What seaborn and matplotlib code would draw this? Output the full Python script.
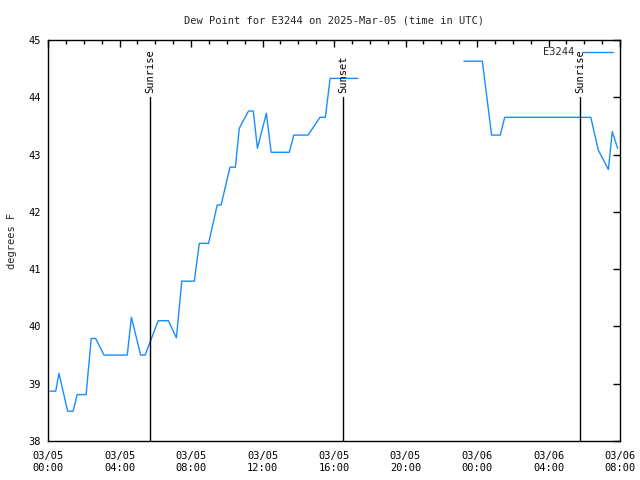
import matplotlib
matplotlib.use("Agg")
import matplotlib.pyplot as plt
import matplotlib.dates as mdates
from matplotlib.lines import Line2D
import seaborn as sns
import pandas as pd

# ---- data ----
times_day1 = ["00:07", "00:26", "00:37", "01:06", "01:24", "01:38", "02:08", "02:25",
              "02:40", "03:08", "04:26", "04:40", "05:11", "05:26", "06:10", "06:44",
              "07:11", "07:29", "08:11", "08:28", "08:59", "09:28", "09:41", "10:11",
              "10:29", "10:42", "11:13", "11:29", "11:43", "12:13", "12:29", "13:30",
              "13:45", "14:33", "15:13", "15:31", "15:47", "17:20"]
dew_day1 = [38.87, 38.87, 39.18, 38.52, 38.52, 38.81, 38.81, 39.79,
            39.79, 39.50, 39.50, 40.16, 39.50, 39.50, 40.10, 40.10,
            39.80, 40.79, 40.79, 41.45, 41.45, 42.12, 42.12, 42.78,
            42.78, 43.46, 43.76, 43.76, 43.11, 43.72, 43.04, 43.04,
            43.34, 43.34, 43.65, 43.65, 44.33, 44.33]
times_day2 = ["2025-03-05 23:16", "2025-03-06 00:18", "2025-03-06 00:49", "2025-03-06 01:18",
              "2025-03-06 01:33", "2025-03-06 06:22", "2025-03-06 06:47", "2025-03-06 07:21",
              "2025-03-06 07:34", "2025-03-06 07:52"]
dew_day2 = [44.63, 44.63, 43.34, 43.34, 43.65, 43.65, 43.08, 42.74, 43.40, 43.11]

event_times = ["2025-03-05 05:42", "2025-03-05 16:30", "2025-03-06 05:46"]
event_labels = ["Sunrise", "Sunset", "Sunrise"]

station = "E3244"
title = "Dew Point for E3244 on 2025-Mar-05 (time in UTC)"
ylabel = "degrees F"

# ---- build frame ----
t1 = pd.to_datetime(["2025-03-05 " + t for t in times_day1])
t2 = pd.to_datetime(times_day2)
df = pd.DataFrame({
    "time": list(t1) + list(t2),
    "dew": dew_day1 + dew_day2,
    "seg": [0] * len(t1) + [1] * len(t2),
    "station": station,
})

sns.set_style("white")
plt.rcParams["font.family"] = ["DejaVu Sans Mono", "DejaVu Sans"]
plt.rcParams["font.size"] = 7.5

fig = plt.figure(figsize=(6.4, 4.8), dpi=100)
ax = fig.add_axes([48 / 640, 1 - 441 / 480, 572 / 640, 401 / 480])

line_color = "#1a8cff"
sns.lineplot(data=df, x="time", y="dew", units="seg", estimator=None,
             color=line_color, linewidth=1.0, ax=ax, legend=False)

x0 = pd.Timestamp("2025-03-05 00:00")
x1 = pd.Timestamp("2025-03-06 08:00")
ax.set_xlim(x0, x1)
ax.set_ylim(38, 45)

for et, lab in zip(pd.to_datetime(event_times), event_labels):
    ax.plot([et, et], [38, 44.0], color="black", linewidth=1.0)
    ax.text(et, 44.07, lab, rotation=90, ha="center", va="bottom",
            fontsize=7.5, color="black")

# legend
h = [Line2D([0], [0], color=line_color, linewidth=1.0)]
ax.legend(h, [station], loc="upper right", frameon=False, markerfirst=False,
          handlelength=2.9, handletextpad=0.8, borderaxespad=0.3, fontsize=7.5)

ax.set_title(title, fontsize=7.5, pad=12)
ax.set_ylabel(ylabel, fontsize=7.5, labelpad=8)
ax.set_xlabel("")

ax.xaxis.set_major_locator(mdates.HourLocator(byhour=range(0, 24, 4)))
ax.xaxis.set_minor_locator(mdates.HourLocator())
ax.xaxis.set_major_formatter(mdates.DateFormatter("%m/%d\n%H:%M"))
ax.set_yticks(range(38, 46))

for s in ax.spines.values():
    s.set_visible(True)
    s.set_color("black")
    s.set_linewidth(1.0)

ax.tick_params(axis="both", which="major", direction="in", length=5, width=1,
               top=True, right=True, colors="black", labelsize=7.5, pad=5)
ax.tick_params(axis="both", which="minor", direction="in", length=3, width=1,
               top=True, right=True, colors="black")
ax.tick_params(axis="x", which="major", pad=7)
for lbl in ax.get_xticklabels():
    lbl.set_linespacing(1.3)

fig.savefig("out.png", dpi=100, facecolor="white")
